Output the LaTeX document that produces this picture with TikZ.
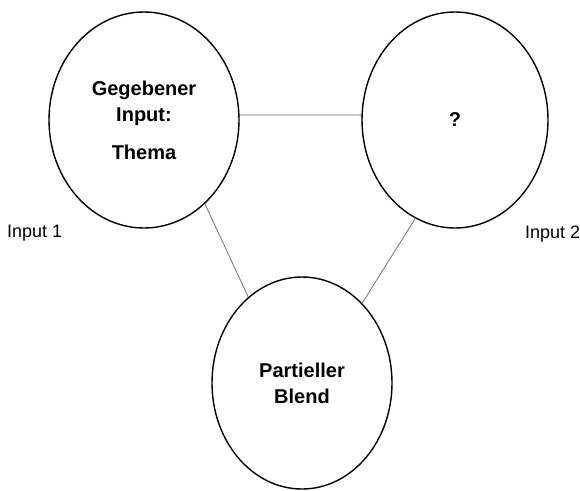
\documentclass[tikz,border=0pt]{standalone}
\usepackage{fontspec}
\setmainfont{Liberation Sans}
\usetikzlibrary{shapes.geometric}
\begin{document}
\begin{tikzpicture}[x=1pt,y=-1pt,
  bubble/.style={draw, ellipse, line width=1.4pt, inner sep=0pt, align=center,
    font=\bfseries\fontsize{20}{26}\selectfont},
  link/.style={draw=black!55, line width=0.8pt},
  lbl/.style={font=\fontsize{18}{22}\selectfont, inner sep=0pt, anchor=base west}]
\useasboundingbox (0,0) rectangle (580,490);
\node[bubble, minimum width=190pt, minimum height=216pt] (L) at (144,120)
  {Gegebener\\Input:\\[12pt]Thema};
\node[bubble, minimum width=186pt, minimum height=216pt] (R) at (455,120) {?};
\node[bubble, minimum width=180pt, minimum height=212pt] (B) at (302,383)
  {Partieller\\Blend};
\node[lbl] (I1) at (7,237) {Input 1};
\node[lbl] (I2) at (525,238) {Input 2};
\draw[link] (L.3) -- (R.177);
\draw[link] (L.-54) -- (B.122);
\draw[link] (R.-112) -- (B.53);
\end{tikzpicture}
\end{document}
